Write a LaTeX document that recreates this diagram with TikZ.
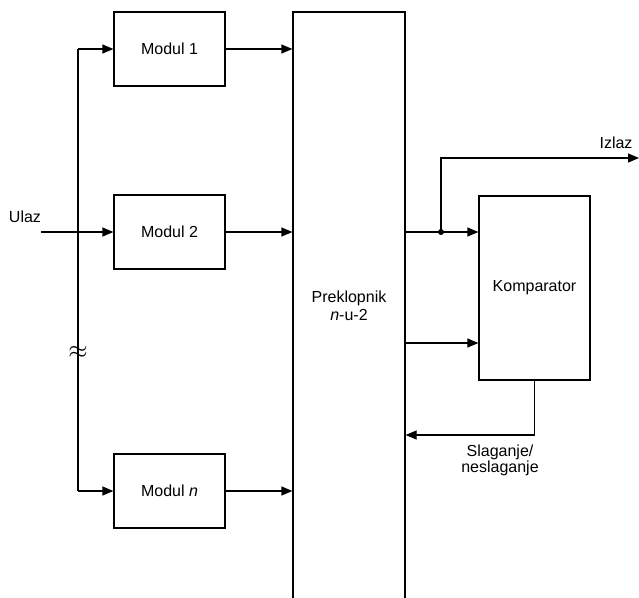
\documentclass[tikz,border=0pt]{standalone}
\usepackage{fontspec}
\setmainfont{Liberation Sans}
\usetikzlibrary{arrows.meta, positioning, calc}

\begin{document}
\begin{tikzpicture}[x=1pt, y=-1pt, line width=1.2pt,
  blok/.style={draw, minimum width=111pt, minimum height=74pt, inner sep=0pt, align=center, font=\fontsize{16}{18}\selectfont},
  sig/.style={-{Triangle[length=11pt, width=9pt]}},
  lbl/.style={font=\fontsize{16}{16}\selectfont, align=center}]
  \clip (0,0) rectangle (639,597);
  \node[blok] (m1) at (169.5,49) {Modul 1};
  \node[blok] (m2) at (169.5,232) {Modul 2};
  \node[blok] (mn) at (169.5,491) {Modul \textit{n}};
  \node[blok, minimum width=112pt, minimum height=588pt] (sw) at (349,306) {Preklopnik\\\textit{n}-u-2};
  \node[blok, minimum height=184pt] (kmp) at (534.5,288) {Komparator};
  \node[lbl] (ulaz) at (25,217) {Ulaz};
  \node[lbl] (izlaz) at (616,143) {Izlaz};
  \node[lbl, anchor=north] (sl) at (500,441) {Slaganje/\\neslaganje};
  \node[font=\fontsize{30}{30}\selectfont, inner sep=0pt] (gap) at (78,352) {$\approx$};
  \coordinate (ul) at (41,232);
  \coordinate (bus) at (78,232);
  \coordinate (tap) at (441,232);
  \coordinate (out) at (639,158);
  \coordinate (k2) at (0,343);
  \coordinate (fb) at (0,435);
  % ulaz i sabirnica
  \draw (bus |- m1) -- (bus |- mn);
  \draw[sig] (bus |- m1) -- (m1.west);
  \draw[sig] (ul) -- (m2.west);
  \draw[sig] (bus |- mn) -- (mn.west);
  % moduli na preklopnik
  \draw[sig] (m1.east) -- (sw.west |- m1);
  \draw[sig] (m2.east) -- (sw.west |- m2);
  \draw[sig] (mn.east) -- (sw.west |- mn);
  % izlazi preklopnika
  \draw[sig] (sw.east |- m2) -- (kmp.west |- m2);
  \fill (tap) circle (3pt);
  \draw[sig] (tap) |- (out);
  \draw[sig] (sw.east |- k2) -- (kmp.west |- k2);
  \draw[sig] (kmp.south) |- (sw.east |- fb);
\end{tikzpicture}
\end{document}
